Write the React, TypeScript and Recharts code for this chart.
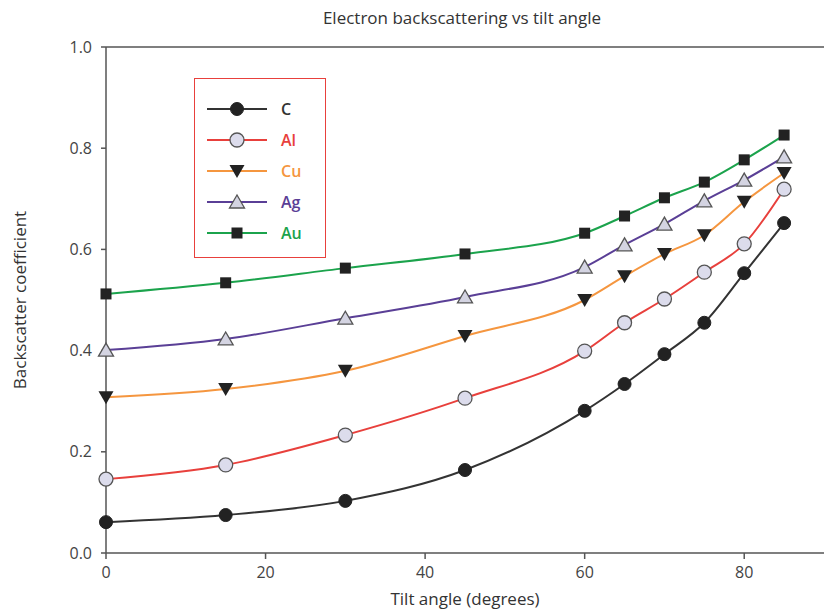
import React from "react"
import {
  LineChart,
  Line,
  XAxis,
  YAxis,
  Legend,
  ReferenceLine,
  Label
} from "recharts"

const tilt = [0, 15, 30, 45, 60, 65, 70, 75, 80, 85]

const carbon = [0.061, 0.075, 0.103, 0.164, 0.281, 0.334, 0.393, 0.455, 0.553, 0.652]
const aluminium = [0.146, 0.174, 0.233, 0.306, 0.399, 0.455, 0.502, 0.555, 0.611, 0.719]
const copper = [0.308, 0.324, 0.36, 0.429, 0.5, 0.547, 0.591, 0.628, 0.694, 0.751]
const silver = [0.401, 0.423, 0.464, 0.506, 0.565, 0.609, 0.65, 0.696, 0.737, 0.783]
const gold = [0.512, 0.534, 0.563, 0.591, 0.632, 0.666, 0.702, 0.733, 0.777, 0.826]

const xTicks = [0, 20, 40, 60, 80]
const yTicks = [0, 0.2, 0.4, 0.6, 0.8, 1.0]

const chartData = tilt.map((t, i) => ({
  tilt: t,
  C: carbon[i],
  Al: aluminium[i],
  Cu: copper[i],
  Ag: silver[i],
  Au: gold[i]
}))

const font = "'Open Sans', sans-serif"

function marker(kind: string, x: number, y: number, key?: any) {
  if (kind === "C") {
    return <circle key={key} cx={x} cy={y} r={6.5} fill="#222" stroke="#222" />
  }
  if (kind === "Al") {
    return <circle key={key} cx={x} cy={y} r={7} fill="#dcdcec" stroke="#555" strokeWidth={1.3} />
  }
  if (kind === "Cu") {
    return (
      <path key={key} d={`M${x - 7.5},${y - 6} L${x + 7.5},${y - 6} L${x},${y + 7} Z`} fill="#222" />
    )
  }
  if (kind === "Ag") {
    return (
      <path
        key={key}
        d={`M${x - 7.5},${y + 6} L${x + 7.5},${y + 6} L${x},${y - 7} Z`}
        fill="#d4d4e2"
        stroke="#555"
        strokeWidth={1.3}
      />
    )
  }
  return <rect key={key} x={x - 5.5} y={y - 5.5} width={11} height={11} fill="#222" />
}

const series = [
  { key: "C", color: "#333333", text: "#333333" },
  { key: "Al", color: "#e8403c", text: "#e8403c" },
  { key: "Cu", color: "#f5963f", text: "#f5963f" },
  { key: "Ag", color: "#5a3f96", text: "#5a3f96" },
  { key: "Au", color: "#1ba34c", text: "#1ba34c" }
]

function LegendBox() {
  return (
    <div
      style={{
        border: "1.5px solid #e8403c",
        width: 132,
        height: 180,
        boxSizing: "border-box",
        paddingTop: 14,
        paddingLeft: 12
      }}
    >
      {series.map((s) => (
        <div key={s.key} style={{ display: "flex", alignItems: "center", height: 31 }}>
          <svg width={62} height={20}>
            <line x1={0} y1={10} x2={60} y2={10} stroke={s.color} strokeWidth={2} />
            {marker(s.key, 30, 10)}
          </svg>
          <span
            style={{
              marginLeft: 12,
              fontFamily: font,
              fontSize: 16,
              fontWeight: 600,
              color: s.text
            }}
          >
            {s.key}
          </span>
        </div>
      ))}
    </div>
  )
}

export default function App() {
  return (
    <div
      style={{
        position: "fixed",
        top: 0,
        left: 0,
        width: 826,
        height: 612,
        background: "#fff",
        overflow: "hidden"
      }}
    >
      <div
        style={{
          position: "absolute",
          top: 6,
          left: 0,
          width: 826,
          paddingLeft: 98,
          boxSizing: "border-box",
          textAlign: "center",
          fontFamily: font,
          fontSize: 17,
          color: "#333",
          zIndex: 1
        }}
      >
        Electron backscattering vs tilt angle
      </div>

      <LineChart
        width={826}
        height={612}
        data={chartData}
        margin={{ top: 47, right: 2, bottom: 0, left: 0 }}
      >
        <XAxis
          dataKey="tilt"
          type="number"
          domain={[0, 90]}
          ticks={xTicks}
          height={59}
          stroke="#555"
          strokeWidth={1.5}
          tickSize={6}
          tickMargin={8}
          tick={{ fill: "#444", fontSize: 16, fontFamily: font }}
        >
          <Label
            value="Tilt angle (degrees)"
            position="insideBottom"
            offset={7}
            style={{ fill: "#333", fontSize: 17, fontFamily: font }}
          />
        </XAxis>
        <YAxis
          type="number"
          domain={[0, 1]}
          ticks={yTicks}
          width={106}
          stroke="#555"
          strokeWidth={1.5}
          tickSize={5}
          tickMargin={9}
          tickFormatter={(v: number) => v.toFixed(1)}
          tick={{ fill: "#444", fontSize: 16, fontFamily: font }}
        >
          <Label
            value="Backscatter coefficient"
            angle={-90}
            position="insideLeft"
            offset={20}
            style={{ fill: "#333", fontSize: 17, fontFamily: font, textAnchor: "middle" }}
          />
        </YAxis>

        <ReferenceLine y={1} stroke="#555" strokeWidth={1.5} />

        <Legend
          layout="vertical"
          align="center"
          verticalAlign="middle"
          content={() => <LegendBox />}
          wrapperStyle={{ left: 194, top: 78, width: 134 }}
        />

        {series.map((s) => (
          <Line
            key={s.key}
            type="monotone"
            dataKey={s.key}
            stroke={s.color}
            strokeWidth={2}
            isAnimationActive={false}
            dot={(p: any) => marker(s.key, p.cx, p.cy, p.index)}
            activeDot={false}
          />
        ))}
      </LineChart>
    </div>
  )
}
